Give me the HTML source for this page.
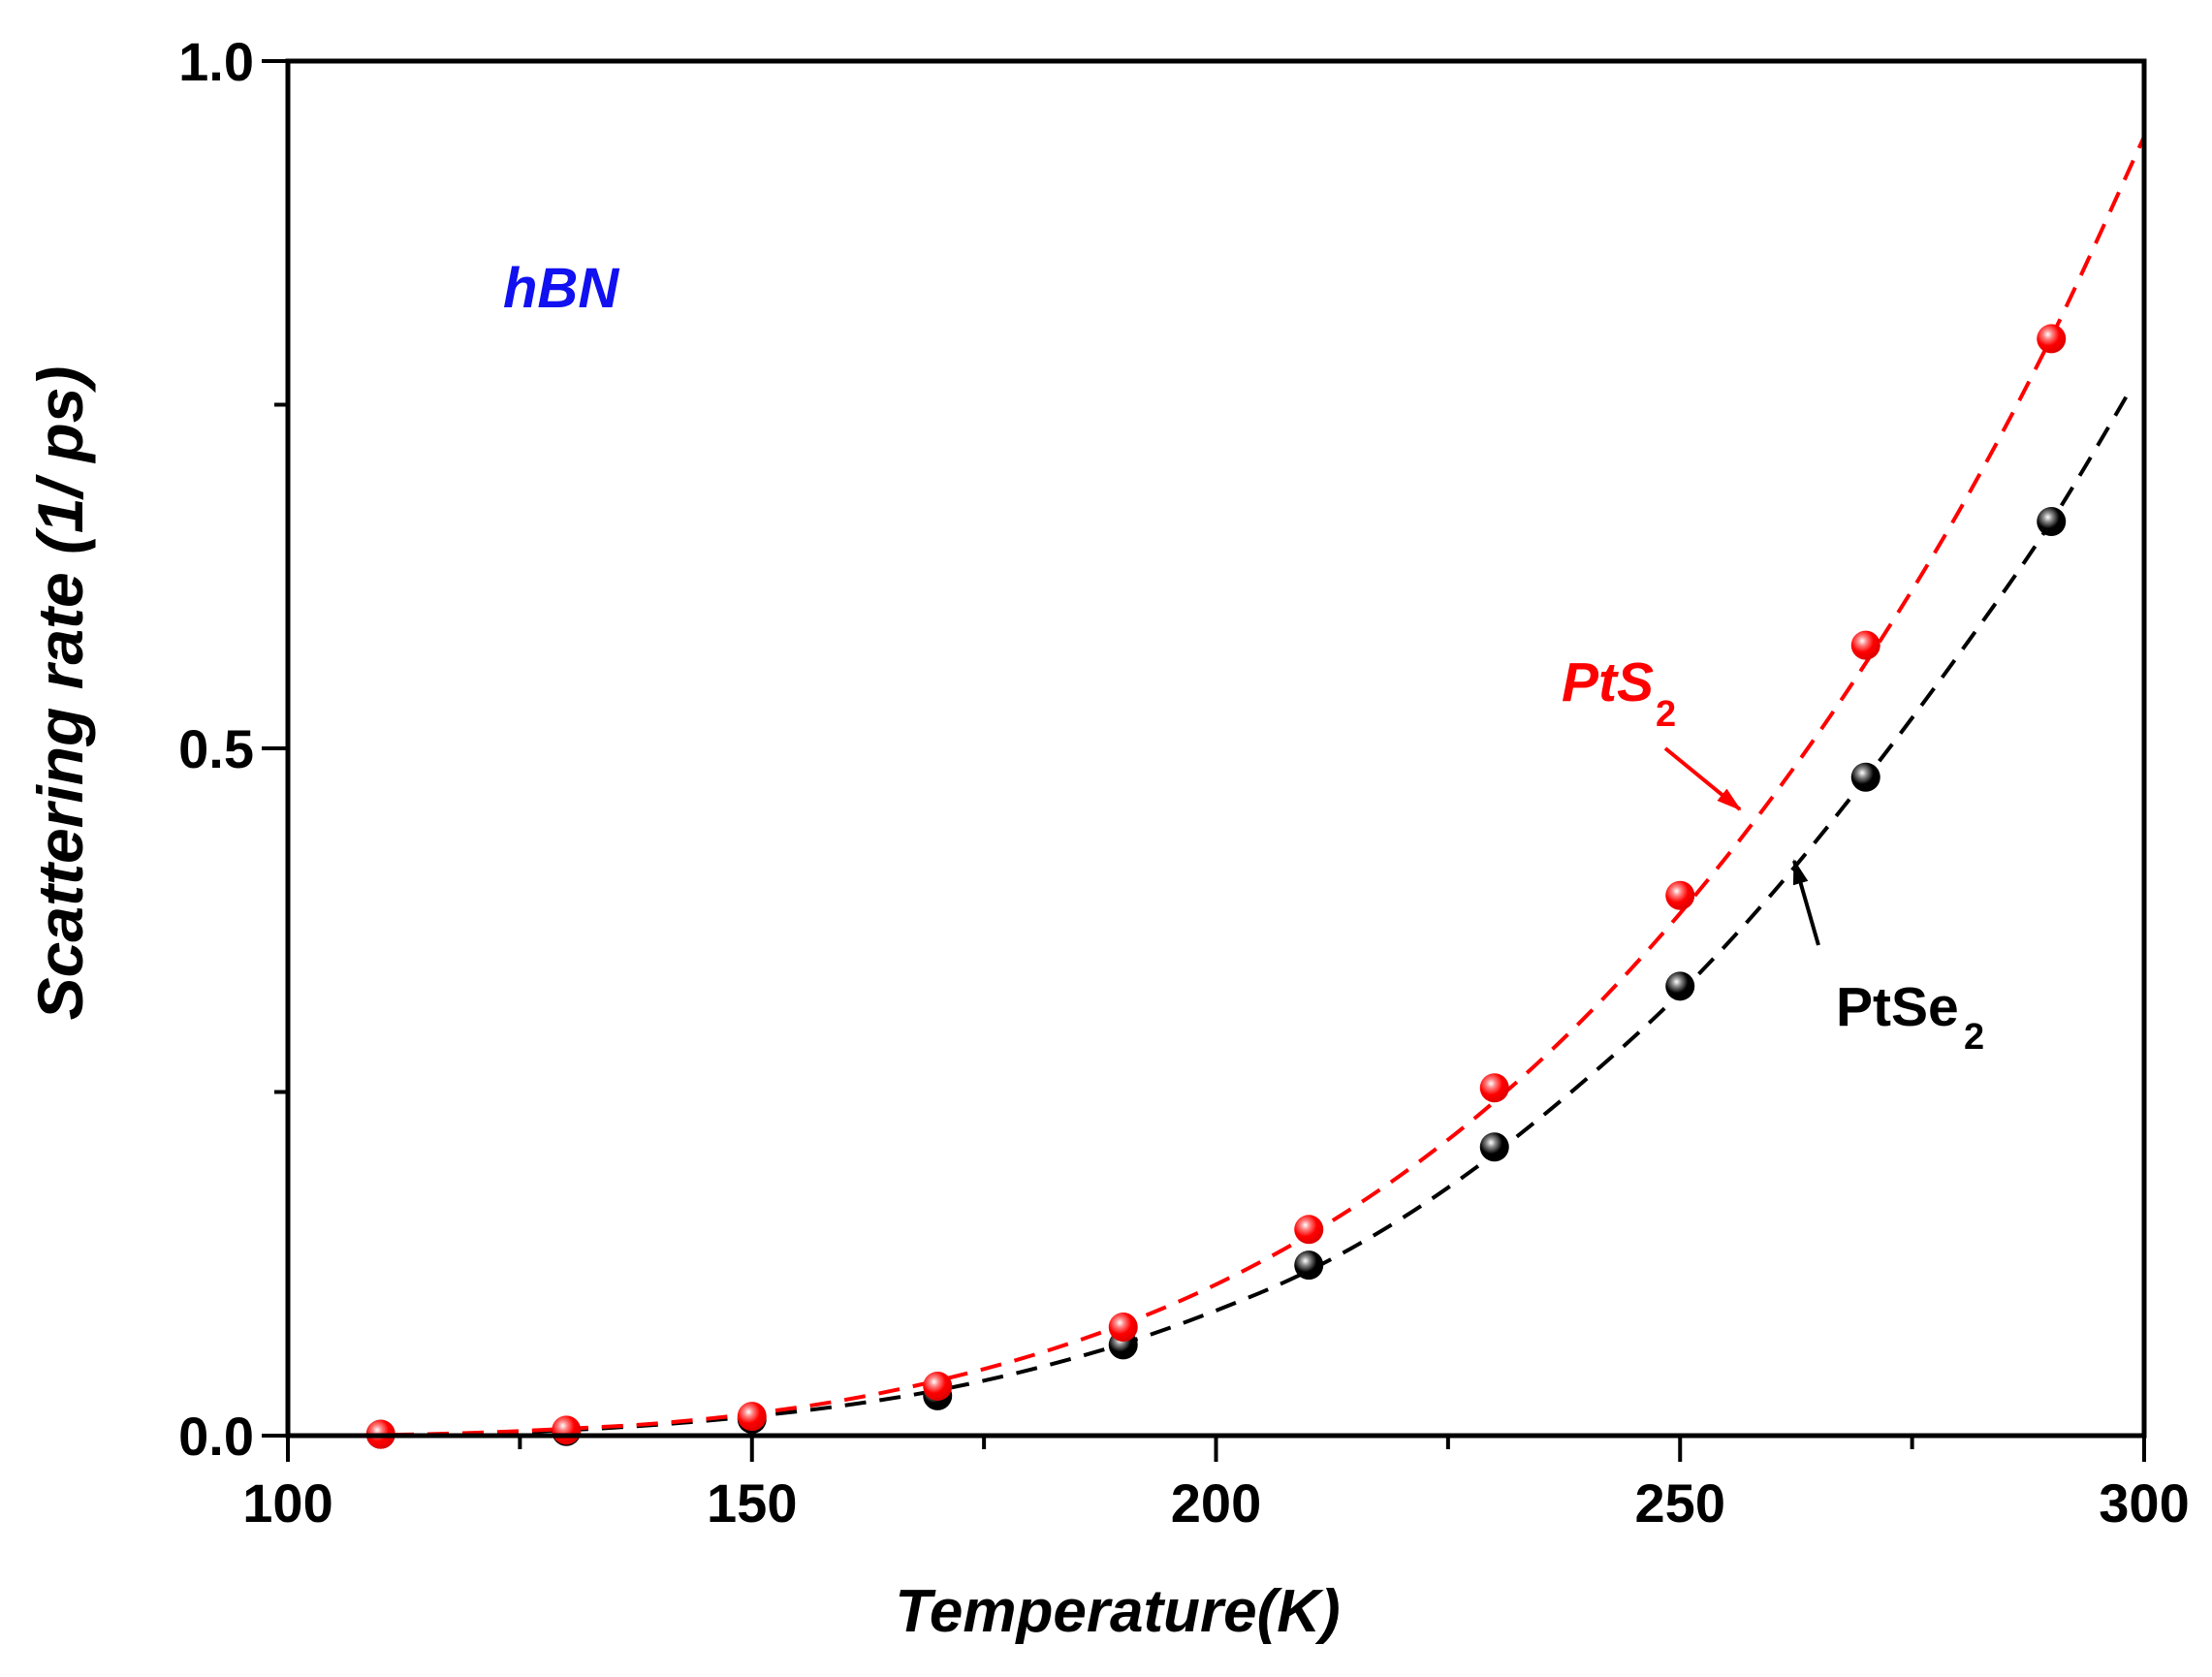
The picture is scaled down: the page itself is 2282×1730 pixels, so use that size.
<!DOCTYPE html>
<html><head><meta charset="utf-8"><style>
html,body{margin:0;padding:0;background:#fff;}
svg{display:block;font-family:"Liberation Sans",Arial,sans-serif;}
</style></head><body>
<svg id="chart" width="2282" height="1730" viewBox="0 0 2282 1730" xmlns="http://www.w3.org/2000/svg">
<defs>
<radialGradient id="gr" cx="0.38" cy="0.35" r="0.65"><stop offset="0" stop-color="#fff"/><stop offset="0.25" stop-color="#ff8080"/><stop offset="0.6" stop-color="#ff0000"/><stop offset="1" stop-color="#e00000"/></radialGradient>
<radialGradient id="gk" cx="0.38" cy="0.35" r="0.65"><stop offset="0" stop-color="#fff"/><stop offset="0.25" stop-color="#888"/><stop offset="0.6" stop-color="#000"/><stop offset="1" stop-color="#000"/></radialGradient>
<marker id="ahr" markerWidth="26" markerHeight="16" refX="24" refY="8" orient="auto" markerUnits="userSpaceOnUse" viewBox="0 0 26 16"><path d="M0,0 L26,8 L0,16 z" fill="#ff0000"/></marker>
<marker id="ahk" markerWidth="26" markerHeight="16" refX="24" refY="8" orient="auto" markerUnits="userSpaceOnUse" viewBox="0 0 26 16"><path d="M0,0 L26,8 L0,16 z" fill="#000"/></marker>
</defs>
<g id="plot"></g>
<text x="519" y="317" font-size="58" font-weight="bold" font-style="italic" fill="#1010f0">hBN</text>
<text x="1611" y="723" font-size="57" font-weight="bold" font-style="italic" fill="#ff0000">PtS</text>
<text x="1708" y="749" font-size="38" font-weight="bold" fill="#ff0000">2</text>
<line x1="1718" y1="772" x2="1795" y2="835" stroke="#ff0000" stroke-width="4" marker-end="url(#ahr)"/>
<text x="1894" y="1058" font-size="57" font-weight="bold" fill="#000">PtSe</text>
<text x="2026" y="1082" font-size="38" font-weight="bold" fill="#000">2</text>
<line x1="1876" y1="975" x2="1851" y2="888" stroke="#000" stroke-width="4" marker-end="url(#ahk)"/>
<text x="1153" y="1683" text-anchor="middle" font-size="62" font-weight="bold" font-style="italic">Temperature(K)</text>
<text transform="translate(85,715) rotate(-90)" text-anchor="middle" font-size="66" font-weight="bold" font-style="italic">Scattering rate (1/ ps)</text>
</svg>
<script>
const xTicks=[100,150,200,250,300];
const yTicks=[0.0,0.5,1.0];
const yTickLabels=["0.0","0.5","1.0"];
const tempPts=[110,130,150,170,190,210,230,250,270,290];
const pts2Vals=[0.001,0.004,0.014,0.036,0.079,0.15,0.253,0.393,0.575,0.798];
const ptse2Vals=[0.001,0.003,0.012,0.029,0.066,0.124,0.21,0.327,0.479,0.665];
const fitTemps=[100,110,120,130,140,150,160,170,180,190,200,210,220,230,240,250,260,270,280,290,300];
const pts2Fit=[0,0.0005,0.002,0.005,0.009,0.016,0.026,0.04,0.058,0.081,0.11,0.146,0.19,0.243,0.306,0.38,0.465,0.562,0.672,0.799,0.945];
const ptse2Fit=[0,0.0004,0.0016,0.004,0.008,0.014,0.022,0.033,0.048,0.067,0.091,0.12,0.158,0.205,0.26,0.322,0.395,0.478,0.568,0.665,0.778];

const L=297,R=2212,T=63,B=1481;
const sx=v=>L+(v-100)/(300-100)*(R-L);
const sy=v=>B-(v-0)/(1-0)*(B-T);
const NS="http://www.w3.org/2000/svg";
const g=document.getElementById('plot');
function mk(tag,attrs){const e=document.createElementNS(NS,tag);for(const k in attrs)e.setAttribute(k,attrs[k]);g.appendChild(e);return e;}

function pathFor(xs,ys){
  const P=xs.map((x,i)=>[sx(x),sy(ys[i])]);
  let d="M"+P[0][0]+","+P[0][1];
  for(let i=0;i<P.length-1;i++){
    const p0=P[Math.max(0,i-1)],p1=P[i],p2=P[i+1],p3=P[Math.min(P.length-1,i+2)];
    const c1=[p1[0]+(p2[0]-p0[0])/6,p1[1]+(p2[1]-p0[1])/6];
    const c2=[p2[0]-(p3[0]-p1[0])/6,p2[1]-(p3[1]-p1[1])/6];
    d+=` C${c1[0]},${c1[1]} ${c2[0]},${c2[1]} ${p2[0]},${p2[1]}`;
  }
  return d;
}
let e;
e=mk('clipPath',{id:'clip'});
const cr=document.createElementNS(NS,'rect');cr.setAttribute('x',L);cr.setAttribute('y',T);cr.setAttribute('width',R-L-14);cr.setAttribute('height',B-T);e.appendChild(cr);

e=mk('path',{d:pathFor(fitTemps,ptse2Fit),fill:'none',stroke:'#000','stroke-width':4,'stroke-dasharray':'22 14','clip-path':'url(#clip)'});


e=mk('path',{d:pathFor(fitTemps,pts2Fit),fill:'none',stroke:'#ff0000','stroke-width':4,'stroke-dasharray':'22 14'});



tempPts.forEach((t,i)=>{
  const c=mk('circle',{cx:sx(t),cy:sy(ptse2Vals[i]),r:15,fill:'url(#gk)'});
  
  
});
tempPts.forEach((t,i)=>{
  const c=mk('circle',{cx:sx(t),cy:sy(pts2Vals[i]),r:15,fill:'url(#gr)'});
  
  
});

e=mk('rect',{x:L,y:T,width:R-L,height:B-T,fill:'none',stroke:'#000','stroke-width':5});



xTicks.forEach((v,i)=>{
  const t=mk('line',{x1:sx(v),y1:B,x2:sx(v),y2:B+27,stroke:'#000','stroke-width':4});
  
  
  if(i<xTicks.length-1){
    const m=mk('line',{x1:sx(v+25),y1:B,x2:sx(v+25),y2:B+14,stroke:'#000','stroke-width':4});
    
    
  }
  const lb=mk('text',{x:sx(v),y:1570,'text-anchor':'middle','font-size':56,'font-weight':'bold'});
  lb.textContent=String(v);
  
  
});
yTicks.forEach((v,i)=>{
  const t=mk('line',{x1:L-27,y1:sy(v),x2:L,y2:sy(v),stroke:'#000','stroke-width':4});
  
  
  if(i<yTicks.length-1){
    const m=mk('line',{x1:L-14,y1:sy(v+0.25),x2:L,y2:sy(v+0.25),stroke:'#000','stroke-width':4});
    
    
  }
  const lb=mk('text',{x:L-35,y:sy(v)+20,'text-anchor':'end','font-size':56,'font-weight':'bold'});
  lb.textContent=yTickLabels[i];
  
  
});
</script>
</body></html>
